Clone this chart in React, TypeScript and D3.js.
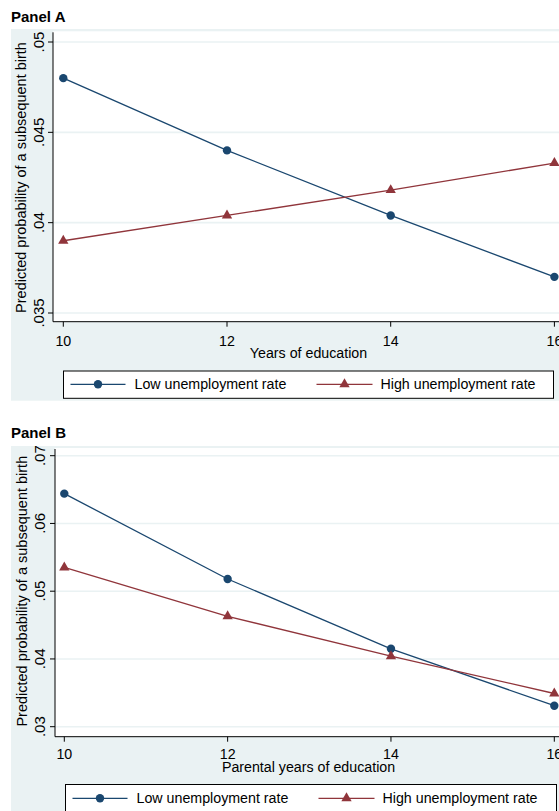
import React from "react";
import * as d3 from "d3";

// Years of education on the x axis (shared by both panels)
const educationYears = [10, 12, 14, 16];

// Panel A: own years of education
const panelALow = [0.048, 0.044, 0.0404, 0.037];
const panelAHigh = [0.039, 0.0404, 0.0418, 0.0433];
const panelAYTicks = [0.035, 0.04, 0.045, 0.05];

// Panel B: parental years of education
const panelBLow = [0.0644, 0.0518, 0.0415, 0.0331];
const panelBHigh = [0.0535, 0.0463, 0.0404, 0.0349];
const panelBYTicks = [0.03, 0.04, 0.05, 0.06, 0.07];

const seriesNames = ["Low unemployment rate", "High unemployment rate"];
const yTitle = "Predicted probability of a subsequent birth";

const W = 559;
const H = 811;
const BG = "#eaf2f3";
const GRID = "#eaf2f3";
const LOW = "#1a476f";
const HIGH = "#90353b";
const FONT = "'Liberation Sans', Arial, Helvetica, sans-serif";

const fmt = (v: number) => String(v).replace(/^0\./, ".");

type PanelProps = {
  title: string;
  titleBase: number;
  bgTop: number;
  bgBottom: number;
  plotTop: number;
  axisX: number;
  axisY: number;
  xRange: [number, number];
  yDomain: [number, number];
  yRange: [number, number];
  yTicks: number[];
  low: number[];
  high: number[];
  xTitle: string;
  xTickBase: number;
  xTitleBase: number;
  yTickBase: number;
  yTitleBase: number;
  legendBox: { x: number; y: number; w: number; h: number };
  legendLineY: number;
  legendTextBase: number;
};

const triangle = d3.symbol(d3.symbolTriangle, 46)();

function HText(props: { x: number; y: number; anchor?: string; children: React.ReactNode; size?: number; weight?: string }) {
  return (
    <text
      transform={`translate(${props.x},${props.y}) scale(0.95,1)`}
      textAnchor={props.anchor || "start"}
      fontSize={props.size || 15}
      fontWeight={props.weight || "normal"}
      fontFamily={FONT}
      fill="#000"
    >
      {props.children}
    </text>
  );
}

function Panel(p: PanelProps) {
  const x = d3.scaleLinear().domain([10, 16]).range(p.xRange);
  const y = d3.scaleLinear().domain(p.yDomain).range(p.yRange);
  const line = d3
    .line<number>()
    .x((_, i) => x(educationYears[i]))
    .y((d) => y(d));
  const cx = (i: number) => x(educationYears[i]);

  const lg = p.legendBox;
  const lowSample = [lg.x + 7, lg.x + 62];
  const highSample = [lg.x + 253, lg.x + 309];

  return (
    <g>
      <text x={11} y={p.titleBase} fontSize={15} fontWeight="bold" fontFamily={FONT} fill="#000">
        {p.title}
      </text>
      {/* graph region */}
      <rect x={11} y={p.bgTop} width={W - 11} height={p.bgBottom - p.bgTop} fill={BG} />
      {/* plot region */}
      <rect x={p.axisX} y={p.plotTop} width={W - p.axisX} height={p.axisY - p.plotTop} fill="#fff" />
      {/* grid lines */}
      {p.yTicks.map((t) => (
        <line key={"g" + t} x1={p.axisX} x2={W} y1={y(t)} y2={y(t)} stroke={GRID} strokeWidth={1.6} />
      ))}
      {/* axes */}
      <line x1={p.axisX} x2={p.axisX} y1={p.plotTop + 1} y2={p.axisY} stroke="#000" strokeWidth={1} />
      <line x1={p.axisX} x2={W} y1={p.axisY} y2={p.axisY} stroke="#000" strokeWidth={1} />
      {p.yTicks.map((t) => (
        <g key={"yt" + t}>
          <line x1={p.axisX - 5} x2={p.axisX} y1={y(t)} y2={y(t)} stroke="#000" strokeWidth={1} />
          <text
            transform={`translate(${p.yTickBase},${y(t)}) rotate(-90)`}
            textAnchor="middle"
            fontSize={15}
            fontFamily={FONT}
            fill="#000"
          >
            {fmt(t)}
          </text>
        </g>
      ))}
      {educationYears.map((t) => (
        <g key={"xt" + t}>
          <line x1={x(t)} x2={x(t)} y1={p.axisY} y2={p.axisY + 5} stroke="#000" strokeWidth={1} />
          <HText x={x(t)} y={p.xTickBase} anchor="middle">
            {t}
          </HText>
        </g>
      ))}
      <HText x={308.5} y={p.xTitleBase} anchor="middle">
        {p.xTitle}
      </HText>
      <text
        transform={`translate(${p.yTitleBase},${(p.yRange[0] + p.yRange[1]) / 2}) rotate(-90)`}
        textAnchor="middle"
        fontSize={14.5}
        fontFamily={FONT}
        fill="#000"
      >
        {yTitle}
      </text>

      {/* series */}
      <path d={line(p.low) || ""} fill="none" stroke={LOW} strokeWidth={1.3} />
      <path d={line(p.high) || ""} fill="none" stroke={HIGH} strokeWidth={1.3} />
      {p.low.map((v, i) => (
        <circle key={"lo" + i} cx={cx(i)} cy={y(v)} r={4.2} fill={LOW} />
      ))}
      {p.high.map((v, i) => (
        <path key={"hi" + i} d={triangle || ""} transform={`translate(${cx(i)},${y(v)})`} fill={HIGH} />
      ))}

      {/* legend */}
      <rect x={lg.x} y={lg.y} width={lg.w} height={lg.h} fill="#fff" stroke="#000" strokeWidth={1} />
      <line x1={lowSample[0]} x2={lowSample[1]} y1={p.legendLineY} y2={p.legendLineY} stroke={LOW} strokeWidth={1.3} />
      <circle cx={(lowSample[0] + lowSample[1]) / 2} cy={p.legendLineY} r={4.2} fill={LOW} />
      <HText x={lg.x + 71} y={p.legendTextBase}>
        {seriesNames[0]}
      </HText>
      <line x1={highSample[0]} x2={highSample[1]} y1={p.legendLineY} y2={p.legendLineY} stroke={HIGH} strokeWidth={1.3} />
      <path
        d={triangle || ""}
        transform={`translate(${(highSample[0] + highSample[1]) / 2},${p.legendLineY})`}
        fill={HIGH}
      />
      <HText x={lg.x + 317} y={p.legendTextBase}>
        {seriesNames[1]}
      </HText>
    </g>
  );
}

export default function App() {
  return (
    <svg
      width={W}
      height={H}
      viewBox={`0 0 ${W} ${H}`}
      style={{ position: "absolute", left: 0, top: 0, background: "#fff" }}
    >
      <Panel
        title="Panel A"
        titleBase={22}
        bgTop={29}
        bgBottom={400.7}
        plotTop={31.3}
        axisX={53}
        axisY={321.7}
        xRange={[63.3, 554.4]}
        yDomain={[0.035, 0.05]}
        yRange={[313, 42]}
        yTicks={panelAYTicks}
        low={panelALow}
        high={panelAHigh}
        xTitle="Years of education"
        xTickBase={345.5}
        xTitleBase={358.3}
        yTickBase={43.5}
        yTitleBase={25.5}
        legendBox={{ x: 63.5, y: 371, w: 490, h: 27.3 }}
        legendLineY={384.3}
        legendTextBase={389}
      />
      <Panel
        title="Panel B"
        titleBase={438}
        bgTop={446}
        bgBottom={H}
        plotTop={448}
        axisX={55}
        axisY={736.7}
        xRange={[64.3, 554.3]}
        yDomain={[0.03, 0.07]}
        yRange={[726.7, 455.7]}
        yTicks={panelBYTicks}
        low={panelBLow}
        high={panelBHigh}
        xTitle="Parental years of education"
        xTickBase={759}
        xTitleBase={771.7}
        yTickBase={44.5}
        yTitleBase={26.5}
        legendBox={{ x: 65.5, y: 784.5, w: 491, h: 30 }}
        legendLineY={798.3}
        legendTextBase={802.7}
      />
    </svg>
  );
}
